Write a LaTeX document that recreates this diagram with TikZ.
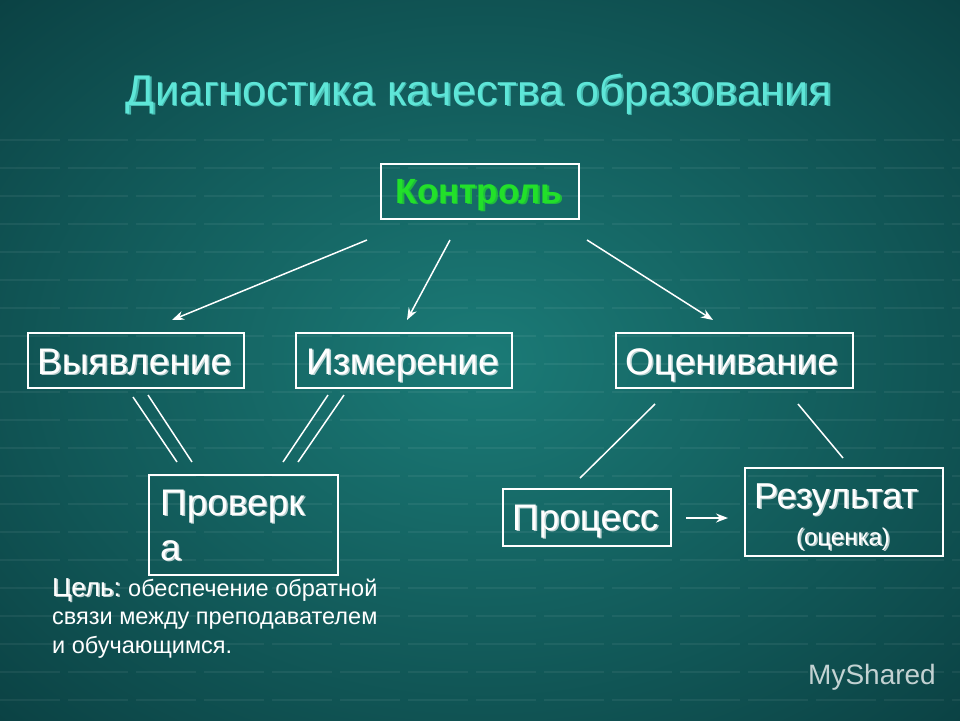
\documentclass[tikz,border=0pt]{standalone}
\usepackage{fontspec}
\setmainfont{Liberation Sans}
\definecolor{bgin}{HTML}{1B7B77}
\definecolor{bgout}{HTML}{0B4244}
\definecolor{ttl}{HTML}{5EE6D8}
\definecolor{grn}{HTML}{22E02A}
\tikzset{
  bx/.style={draw=white,line width=1.5pt,fill=none},
  ln/.style={white,line width=1.5pt},
  ar/.style={ln,-{Stealth[length=12pt,width=9pt]}},
  sh/.style={black!85,opacity=0.7},
}
\newcommand{\stxt}[4]{\node[sh,#1] at ([shift={(1.5,1.5)}]#2) {#4};\node[#1] (#3) at (#2) {#4};}
\usetikzlibrary{arrows.meta}
\begin{document}
\begin{tikzpicture}[x=1pt,y=-1pt,inner sep=0pt]
\useasboundingbox (0,0) rectangle (960,720);
\shade[inner color=bgin,outer color=bgout] (-200,-150) rectangle (1160,870);
\foreach \y in {140,168,196,224,252,280,308,336,364,392,420,448,476,504,532,560,588,616,644,672,700}
  \draw[white,opacity=0.06,line width=1.5pt,dash pattern=on 60pt off 8pt] (0,\y) -- (960,\y);
% title
\stxt{ttl,font=\fontsize{43}{46}\selectfont,anchor=base}{479,105}{title}{Диагностика качества образования}
% boxes
\node[bx,minimum width=198,minimum height=55,anchor=north west] (k) at (380,163) {};
\stxt{grn,font=\fontsize{35}{38}\selectfont\bfseries,anchor=base}{479,203}{kt}{Контроль}
\node[bx,minimum width=216,minimum height=55,anchor=north west] (v) at (27,332) {};
\stxt{white,font=\fontsize{37}{40}\selectfont,anchor=base west}{37,374}{vt}{Выявление}
\node[bx,minimum width=216,minimum height=55,anchor=north west] (i) at (295,332) {};
\stxt{white,font=\fontsize{37}{40}\selectfont,anchor=base west}{306,374}{it}{Измерение}
\node[bx,minimum width=237,minimum height=55,anchor=north west] (o) at (615,332) {};
\stxt{white,font=\fontsize{37}{40}\selectfont,anchor=base west}{625,374}{ot}{Оценивание}
\node[bx,minimum width=189,minimum height=100,anchor=north west] (p) at (148,474) {};
\stxt{white,font=\fontsize{37}{40}\selectfont,anchor=base west}{160,515}{pt1}{Проверк}
\stxt{white,font=\fontsize{37}{40}\selectfont,anchor=base west}{160,560}{pt2}{а}
\node[bx,minimum width=168,minimum height=57,anchor=north west] (pr) at (502,488) {};
\stxt{white,font=\fontsize{37}{40}\selectfont,anchor=base west}{512,530}{prt}{Процесс}
\node[bx,minimum width=198,minimum height=88,anchor=north west] (r) at (744,467) {};
\stxt{white,font=\fontsize{36}{40}\selectfont,anchor=base west}{754,508}{rt}{Результат}
\stxt{white,font=\fontsize{24}{26}\selectfont,anchor=base}{843,545}{rt2}{(оценка)}
% connectors
\coordinate (a1) at (367,240); \coordinate (a1e) at (172,320);
\coordinate (a2) at (450,240); \coordinate (a2e) at (407,320);
\coordinate (a3) at (587,240); \coordinate (a3e) at (713,320);
\draw[ar] (a1) -- (a1e); \draw[ar] (a2) -- (a2e); \draw[ar] (a3) -- (a3e);
\coordinate (l1) at (133,397); \coordinate (l1e) at (177,462);
\coordinate (l2) at (148,395); \coordinate (l2e) at (192,462);
\coordinate (l3) at (328,395); \coordinate (l3e) at (283,462);
\coordinate (l4) at (344,395); \coordinate (l4e) at (298,462);
\draw[ln] (l1)--(l1e); \draw[ln] (l2)--(l2e); \draw[ln] (l3)--(l3e); \draw[ln] (l4)--(l4e);
\coordinate (m1) at (655,404); \coordinate (m1e) at (580,478);
\coordinate (m2) at (798,404); \coordinate (m2e) at (843,458);
\draw[ln] (m1)--(m1e); \draw[ln] (m2)--(m2e);
\coordinate (q1) at (686,518); \coordinate (q2) at (728,518);
\draw[ar] (q1)--(q2);
% goal
\stxt{white,font=\fontsize{26}{28}\selectfont,anchor=base west}{52,596}{goal1}{Цель:}
\node[white,font=\fontsize{23.5}{28}\selectfont,anchor=base west] (goal) at (128,596) {обеспечение обратной};
\node[white,font=\fontsize{23.5}{28}\selectfont,anchor=base west] (goal2) at (52,624) {связи между преподавателем};
\node[white,font=\fontsize{23.5}{28}\selectfont,anchor=base west] (goal3) at (52,653) {и обучающимся.};
\node[white,opacity=0.75,font=\fontsize{28}{30}\selectfont,anchor=base west] (ms) at (808,684) {MyShared};
\end{tikzpicture}
\end{document}
